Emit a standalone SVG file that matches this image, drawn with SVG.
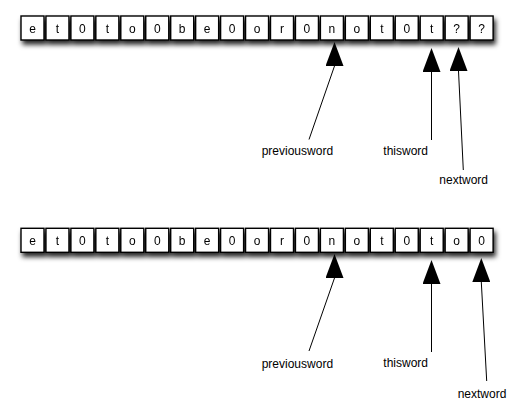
<svg xmlns="http://www.w3.org/2000/svg" width="522" height="410" viewBox="0 0 522 410">
<style>
.box rect{fill:#fff;stroke:#000;stroke-width:1.4}
.box text{font-family:"Liberation Sans",Arial,sans-serif;font-size:12px;text-anchor:middle;fill:#000}
.lbl{font-family:"Liberation Sans",Arial,sans-serif;font-size:12px;fill:#000}
.conn line{stroke:#000;stroke-width:1;marker-end:url(#ah)}
</style>
<defs>
<filter id="sh" x="-5%" y="-30%" width="115%" height="190%">
<feDropShadow dx="2" dy="4" stdDeviation="2.5" flood-color="#000" flood-opacity="0.85"/>
</filter>
<marker id="ah" markerUnits="userSpaceOnUse" markerWidth="24" markerHeight="18" viewBox="0 0 24 18" refX="0" refY="9" orient="-90">
<path d="M0,0 L24,9 L0,18 z" fill="#000"/>
</marker>
</defs>
<g id="row1" filter="url(#sh)">
<g class="box" id="r1c0"><rect x="21" y="16" width="23" height="24"/><text x="32.5" y="32.5">e</text></g>
<g class="box" id="r1c1"><rect x="45.95" y="16" width="23" height="24"/><text x="57.45" y="32.5">t</text></g>
<g class="box" id="r1c2"><rect x="70.9" y="16" width="23" height="24"/><text x="82.4" y="32.5">0</text></g>
<g class="box" id="r1c3"><rect x="95.85" y="16" width="23" height="24"/><text x="107.35" y="32.5">t</text></g>
<g class="box" id="r1c4"><rect x="120.8" y="16" width="23" height="24"/><text x="132.3" y="32.5">o</text></g>
<g class="box" id="r1c5"><rect x="145.75" y="16" width="23" height="24"/><text x="157.25" y="32.5">0</text></g>
<g class="box" id="r1c6"><rect x="170.7" y="16" width="23" height="24"/><text x="182.2" y="32.5">b</text></g>
<g class="box" id="r1c7"><rect x="195.65" y="16" width="23" height="24"/><text x="207.15" y="32.5">e</text></g>
<g class="box" id="r1c8"><rect x="220.6" y="16" width="23" height="24"/><text x="232.1" y="32.5">0</text></g>
<g class="box" id="r1c9"><rect x="245.55" y="16" width="23" height="24"/><text x="257.05" y="32.5">o</text></g>
<g class="box" id="r1c10"><rect x="270.5" y="16" width="23" height="24"/><text x="282" y="32.5">r</text></g>
<g class="box" id="r1c11"><rect x="295.45" y="16" width="23" height="24"/><text x="306.95" y="32.5">0</text></g>
<g class="box" id="r1c12"><rect x="320.4" y="16" width="23" height="24"/><text x="331.9" y="32.5">n</text></g>
<g class="box" id="r1c13"><rect x="345.35" y="16" width="23" height="24"/><text x="356.85" y="32.5">o</text></g>
<g class="box" id="r1c14"><rect x="370.3" y="16" width="23" height="24"/><text x="381.8" y="32.5">t</text></g>
<g class="box" id="r1c15"><rect x="395.25" y="16" width="23" height="24"/><text x="406.75" y="32.5">0</text></g>
<g class="box" id="r1c16"><rect x="420.2" y="16" width="23" height="24"/><text x="431.7" y="32.5">t</text></g>
<g class="box" id="r1c17"><rect x="445.15" y="16" width="23" height="24"/><text x="456.65" y="32.5">?</text></g>
<g class="box" id="r1c18"><rect x="470.1" y="16" width="23" height="24"/><text x="481.6" y="32.5">?</text></g>
</g>
<g id="row2" filter="url(#sh)">
<g class="box" id="r2c0"><rect x="21" y="228.3" width="23" height="24"/><text x="32.5" y="244.8">e</text></g>
<g class="box" id="r2c1"><rect x="45.95" y="228.3" width="23" height="24"/><text x="57.45" y="244.8">t</text></g>
<g class="box" id="r2c2"><rect x="70.9" y="228.3" width="23" height="24"/><text x="82.4" y="244.8">0</text></g>
<g class="box" id="r2c3"><rect x="95.85" y="228.3" width="23" height="24"/><text x="107.35" y="244.8">t</text></g>
<g class="box" id="r2c4"><rect x="120.8" y="228.3" width="23" height="24"/><text x="132.3" y="244.8">o</text></g>
<g class="box" id="r2c5"><rect x="145.75" y="228.3" width="23" height="24"/><text x="157.25" y="244.8">0</text></g>
<g class="box" id="r2c6"><rect x="170.7" y="228.3" width="23" height="24"/><text x="182.2" y="244.8">b</text></g>
<g class="box" id="r2c7"><rect x="195.65" y="228.3" width="23" height="24"/><text x="207.15" y="244.8">e</text></g>
<g class="box" id="r2c8"><rect x="220.6" y="228.3" width="23" height="24"/><text x="232.1" y="244.8">0</text></g>
<g class="box" id="r2c9"><rect x="245.55" y="228.3" width="23" height="24"/><text x="257.05" y="244.8">o</text></g>
<g class="box" id="r2c10"><rect x="270.5" y="228.3" width="23" height="24"/><text x="282" y="244.8">r</text></g>
<g class="box" id="r2c11"><rect x="295.45" y="228.3" width="23" height="24"/><text x="306.95" y="244.8">0</text></g>
<g class="box" id="r2c12"><rect x="320.4" y="228.3" width="23" height="24"/><text x="331.9" y="244.8">n</text></g>
<g class="box" id="r2c13"><rect x="345.35" y="228.3" width="23" height="24"/><text x="356.85" y="244.8">o</text></g>
<g class="box" id="r2c14"><rect x="370.3" y="228.3" width="23" height="24"/><text x="381.8" y="244.8">t</text></g>
<g class="box" id="r2c15"><rect x="395.25" y="228.3" width="23" height="24"/><text x="406.75" y="244.8">0</text></g>
<g class="box" id="r2c16"><rect x="420.2" y="228.3" width="23" height="24"/><text x="431.7" y="244.8">t</text></g>
<g class="box" id="r2c17"><rect x="445.15" y="228.3" width="23" height="24"/><text x="456.65" y="244.8">o</text></g>
<g class="box" id="r2c18"><rect x="470.1" y="228.3" width="23" height="24"/><text x="481.6" y="244.8">0</text></g>
</g>
<g id="connectors" class="conn">
<line x1="309" y1="139.5" x2="334.5" y2="66"/>
<line x1="431.5" y1="140" x2="431.5" y2="72"/>
<line x1="463.3" y1="170" x2="458.5" y2="71"/>
<line x1="309" y1="351" x2="334.5" y2="278"/>
<line x1="431.5" y1="352" x2="431.5" y2="284"/>
<line x1="486.7" y1="381" x2="481.3" y2="282"/>
</g>
<g id="labels">
<text class="lbl" x="261.7" y="155">previousword</text>
<text class="lbl" x="383.3" y="154.5">thisword</text>
<text class="lbl" x="439.3" y="184">nextword</text>
<text class="lbl" x="261.7" y="367.5">previousword</text>
<text class="lbl" x="383.3" y="366.5">thisword</text>
<text class="lbl" x="457.7" y="397.5">nextword</text>
</g>
</svg>
